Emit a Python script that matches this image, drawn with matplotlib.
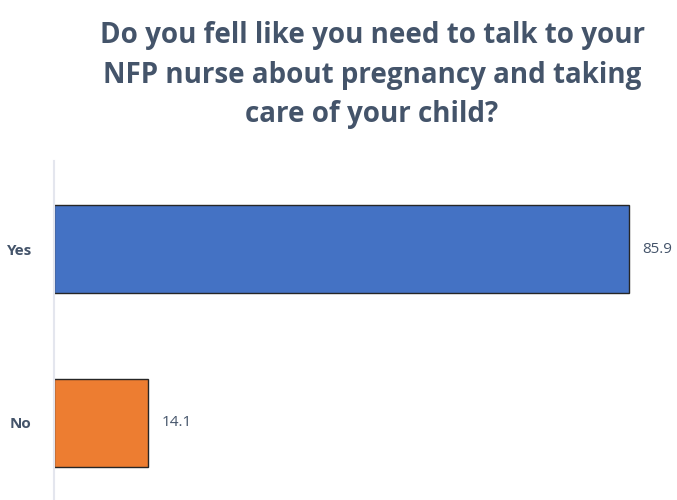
import matplotlib.pyplot as plt

categorias = ['Yes', 'No']
porcentajes = [85.9, 14.1]
colores = ['#4472C4', '#ED7D31']
titulo = ('Do you fell like you need to talk to your\n'
          'NFP nurse about pregnancy and taking\n'
          'care of your child?')

plt.rcParams['font.family'] = ['Open Sans', 'DejaVu Sans']

fig = plt.figure(figsize=(6.77, 5.0), dpi=100)
# ejes en pixeles: izquierda 54, arriba 161, abajo fuera de la figura
ax = fig.add_axes([54 / 677, -11 / 500, 620 / 677, 350 / 500])

pos = list(range(len(categorias)))
barras = ax.barh(pos, porcentajes, height=0.506, color=colores,
                 edgecolor='#262626', linewidth=1.0)
ax.set_ylim(1.506, -0.506)
ax.set_xlim(0, 620 / 6.69)

ax.set_yticks(pos)
ax.set_yticklabels(categorias, fontsize=11, fontweight='bold', color='#44546A')
ax.tick_params(axis='y', length=0, pad=16)
ax.set_xticks([])

for s in ['top', 'right', 'bottom']:
    ax.spines[s].set_visible(False)
ax.spines['left'].set_color('#E4E6EE')
ax.spines['left'].set_linewidth(1.5)

for b, v in zip(barras, porcentajes):
    ax.text(b.get_width() + 2.0, b.get_y() + b.get_height() / 2, f'{v}',
            va='center', ha='left', fontsize=11, color='#44546A', clip_on=False)

fig.text(372 / 677, 1 - 75 / 500, titulo, ha='center', va='center',
         fontsize=20, fontweight='bold', color='#44546A', linespacing=1.48)

fig.savefig('out.png')
